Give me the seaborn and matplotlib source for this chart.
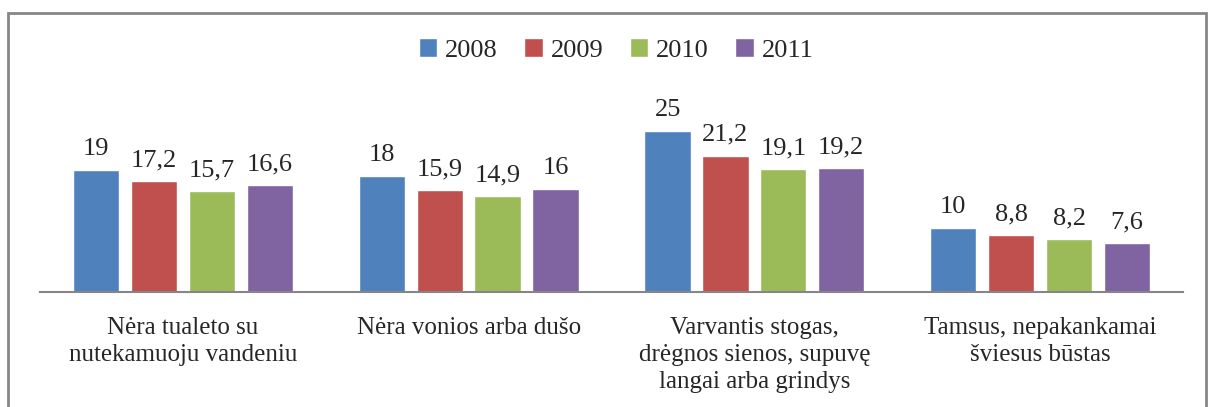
import matplotlib
matplotlib.use("Agg")
import matplotlib.pyplot as plt
import seaborn as sns
import pandas as pd
from matplotlib.patches import Rectangle

categories = ["Nėra tualeto su\nnutekamuoju vandeniu",
              "Nėra vonios arba dušo",
              "Varvantis stogas,\ndrėgnos sienos, supuvę\nlangai arba grindys",
              "Tamsus, nepakankamai\nšviesus būstas"]
years = ["2008", "2009", "2010", "2011"]
v2008 = [19, 18, 25, 10]
v2009 = [17.2, 15.9, 21.2, 8.8]
v2010 = [15.7, 14.9, 19.1, 8.2]
v2011 = [16.6, 16, 19.2, 7.6]
colors = ["#4F81BD", "#C0504D", "#9BBB59", "#8064A2"]

rows = []
for y, vals in zip(years, [v2008, v2009, v2010, v2011]):
    for c, v in zip(categories, vals):
        rows.append({"cat": c, "year": y, "val": v})
df = pd.DataFrame(rows)

sns.set_style("white")
plt.rcParams['font.family'] = ['Liberation Serif', 'DejaVu Serif']

fig = plt.figure(figsize=(12.08, 4.07), dpi=100)
ax = fig.add_axes([40/1208, 1-292/407, (1183-40)/1208, (292-99)/407])
sns.barplot(data=df, x="cat", y="val", hue="year", palette=colors,
            width=0.81, gap=0.2, ax=ax, saturation=1, legend=True)

def fmt(v):
    s = f"{v:g}"
    return s.replace(".", ",")

for cont in ax.containers:
    ax.bar_label(cont, labels=[fmt(b.get_height()) for b in cont], padding=7, fontsize=19)

ax.set_ylim(0, 30)
ax.set_xlim(-0.5, 3.5)
ax.set_xlabel("")
ax.set_ylabel("")
ax.set_yticks([])
for s in ["top", "right", "left"]:
    ax.spines[s].set_visible(False)
ax.spines["bottom"].set_color("#868686")
ax.spines["bottom"].set_linewidth(1.5)
ax.tick_params(axis="x", length=0, pad=18, labelsize=18)
for t in ax.get_xticklabels():
    t.set_linespacing(1.3)
    t.set_ha("center")

leg = ax.legend(loc="center", bbox_to_anchor=(616/1208, 1-50/407), bbox_transform=fig.transFigure,
                ncol=4, frameon=False, fontsize=19, handlelength=0.7, handleheight=0.7,
                handletextpad=0.3, columnspacing=1.0)

fig.patches.append(Rectangle((8/1208, -0.1), (1206-8)/1208, 1.1 - 13/407,
                             transform=fig.transFigure, fill=False,
                             edgecolor="#868686", linewidth=2, zorder=10))

fig.savefig("out.png", dpi=100)
